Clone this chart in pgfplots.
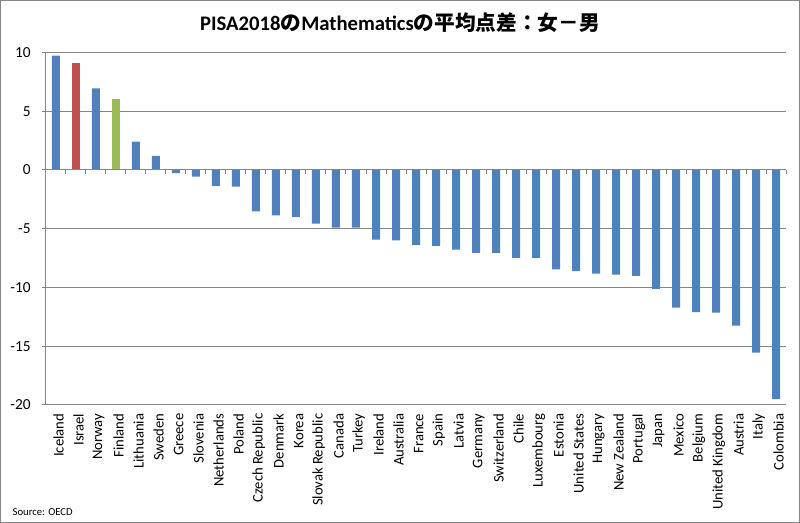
\documentclass[border=0pt]{standalone}
\usepackage{fontspec}
\setmainfont{Carlito}
\newfontfamily\cjk{Noto Sans CJK JP}
\usepackage{pgfplots}
\pgfplotsset{compat=1.18}
\definecolor{xlblue}{HTML}{4F81BD}
\definecolor{xlred}{HTML}{C0504D}
\definecolor{xlgreen}{HTML}{9BBB59}
\definecolor{xlgrid}{RGB}{134,134,134}
\begin{document}
\begin{tikzpicture}[x=1pt,y=1pt]
% chart area frame (800x523 px at 0.75pt per px)
\draw[xlgrid, line width=0.75pt] (0.4,0.4) rectangle (599.6,391.85);
\node[font=\fontsize{15.5}{17}\selectfont\bfseries] at (300,375.5)
  {PISA2018{\cjk\bfseries の}Mathematics{\cjk\bfseries の平均点差：女－男}};
\node[font=\fontsize{8}{9}\selectfont, anchor=base west] at (6,6) {Source: OECD};
\begin{axis}[
    at={(34.5pt,88.5pt)}, anchor=south west,
    scale only axis,
    width=555pt, height=264.4pt,
    xmin=-0.5, xmax=36.5,
    ymin=-20, ymax=10,
    ytick={-20,-15,...,10},
    axis y line*=left,
    axis x line*=bottom,
    axis line style={xlgrid, line width=0.75pt},
    ymajorgrids=true,
    grid style={xlgrid, line width=0.75pt},
    tick style={xlgrid, line width=0.75pt},
    tick align=outside,
    major tick length=3pt,
    x tick style={draw=none},
    xtick={0,...,36},
    xticklabels={Iceland,Israel,Norway,Finland,Lithuania,Sweden,Greece,Slovenia,Netherlands,Poland,Czech Republic,Denmark,Korea,Slovak Republic,Canada,Turkey,Ireland,Australia,France,Spain,Latvia,Germany,Switzerland,Chile,Luxembourg,Estonia,United States,Hungary,New Zealand,Portugal,Japan,Mexico,Belgium,United Kingdom,Austria,Italy,Colombia},
    xticklabel style={rotate=90, anchor=east, font=\fontsize{11}{12}\selectfont, yshift=-2pt},
    yticklabel style={font=\fontsize{11.5}{12}\selectfont, xshift=-5pt},
    /pgf/number format/assume math mode=true,
    clip=false,
]
\addplot[ybar, bar width=6pt, fill=xlblue, draw=none] coordinates {
    (0,9.73) (2,6.95) (4,2.41) (5,1.19) (6,-0.28) (7,-0.57) (8,-1.36) (9,-1.42)
    (10,-3.52) (11,-3.86) (12,-4.0) (13,-4.57) (14,-4.91) (15,-4.91) (16,-5.93)
    (17,-6.0) (18,-6.38) (19,-6.47) (20,-6.78) (21,-7.06) (22,-7.06) (23,-7.49)
    (24,-7.49) (25,-8.45) (26,-8.6) (27,-8.82) (28,-8.9) (29,-9.02) (30,-10.13)
    (31,-11.72) (32,-12.09) (33,-12.14) (34,-13.25) (35,-15.55) (36,-19.49)
};
\addplot[ybar, bar width=6pt, fill=xlred, draw=none] coordinates {(1,9.13)};
\addplot[ybar, bar width=6pt, fill=xlgreen, draw=none] coordinates {(3,6.04)};
% zero line with category boundary ticks
\draw[xlgrid, line width=0.75pt] (axis cs:-0.5,0) -- (axis cs:36.5,0);
\pgfplotsinvokeforeach{0,...,36}{
  \draw[xlgrid, line width=0.75pt] (axis cs:#1+0.5,0) -- ([yshift=-3pt]axis cs:#1+0.5,0);
}
\end{axis}
\end{tikzpicture}
\end{document}
